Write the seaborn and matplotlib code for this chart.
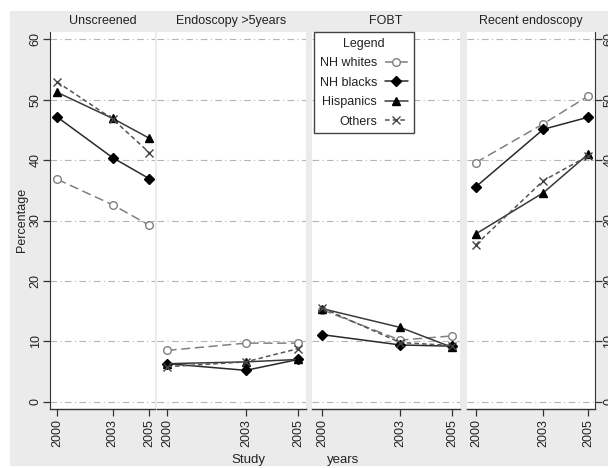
import pandas as pd
import matplotlib
matplotlib.use("Agg")
import matplotlib.pyplot as plt
from matplotlib.patches import Rectangle
import seaborn as sns

# data
years = [2000, 2003, 2005]
panels = ["Unscreened", "Endoscopy >5years", "FOBT", "Recent endoscopy"]
groups = ["NH whites", "NH blacks", "Hispanics", "Others"]

nh_whites = [[36.8, 32.6, 29.2], [8.5, 9.7, 9.7], [15.2, 10.2, 10.9], [39.6, 46.0, 50.6]]
nh_blacks = [[47.1, 40.4, 36.9], [6.3, 5.2, 7.0], [11.1, 9.4, 9.2], [35.6, 45.1, 47.1]]
hispanics = [[51.2, 46.9, 43.6], [6.3, 6.6, 7.0], [15.4, 12.3, 9.0], [27.8, 34.6, 41.0]]
others = [[52.9, 46.8, 41.2], [5.8, 6.6, 8.8], [15.5, 9.8, 9.3], [26.0, 36.6, 40.7]]

yticks = [0, 10, 20, 30, 40, 50, 60]

rows = []
for g, vals in zip(groups, [nh_whites, nh_blacks, hispanics, others]):
    for p, series in zip(panels, vals):
        for yr, v in zip(years, series):
            rows.append({"panel": p, "group": g, "year": yr, "pct": v})
df = pd.DataFrame(rows)

sns.set_style("white")
plt.rcParams["font.family"] = ["Liberation Sans", "DejaVu Sans"]

# line styles per group
styles = {
    "NH whites": dict(color="#808080", marker="o", linestyle=(0, (6, 3)), markersize=5.5,
                      markerfacecolor="white", markeredgecolor="#808080"),
    "NH blacks": dict(color="#2a2a2a", marker="D", linestyle="-", markersize=4.8,
                      markerfacecolor="black", markeredgecolor="black"),
    "Hispanics": dict(color="#3a3a3a", marker="^", linestyle="-", markersize=6,
                      markerfacecolor="black", markeredgecolor="black"),
    "Others": dict(color="#555555", marker="x", linestyle=(0, (3, 2)), markersize=5.5,
                   markeredgecolor="#444444"),
}

W, H = 608, 468
fig = plt.figure(figsize=(W / 100, H / 100), dpi=100)
fig.patch.set_facecolor("white")
fig.add_artist(Rectangle((10 / W, 2 / H), 1, (H - 13) / H, transform=fig.transFigure,
                         facecolor="#ebebeb", edgecolor="none", zorder=-5))

# panel extents in pixels
edges = [(50, 155), (157, 306), (312, 460), (467, 595)]
bottom, top = 409, 32
axes = []
for i, (p, (l, r)) in enumerate(zip(panels, edges)):
    ax = fig.add_axes([l / W, (H - bottom) / H, (r - l) / W, (bottom - top) / H])
    sub = df[df["panel"] == p]
    for g in groups:
        sns.lineplot(data=sub[sub["group"] == g], x="year", y="pct", label=g,
                     linewidth=1.1, markeredgewidth=1.0, ax=ax, **styles[g])
    ax.set_xlim(1999.6, 2005.3)
    ax.set_ylim(-1.2, 61.2)
    ax.set_xticks(years)
    ax.set_yticks(yticks)
    ax.set_xlabel("")
    ax.set_ylabel("")
    ax.set_facecolor("white")
    ax.yaxis.grid(True, linestyle=(0, (6, 3, 1, 3)), color="#b5b5b5", linewidth=0.8)
    ax.set_axisbelow(True)
    ax.set_title(p, fontsize=9, color="#222222", pad=6)
    for s in ["top", "right", "left"]:
        ax.spines[s].set_visible(False)
    ax.spines["bottom"].set_color("#333333")
    ax.spines["bottom"].set_linewidth(1.0)
    ax.tick_params(axis="x", direction="out", length=5, width=0.9, color="#333333",
                   labelsize=9, labelcolor="#222222", rotation=90, pad=2, bottom=True)
    ax.tick_params(axis="y", left=False, labelleft=False)
    axes.append(ax)

ax1 = axes[0]
ax1.spines["left"].set_visible(True)
ax1.spines["left"].set_color("#333333")
ax1.tick_params(axis="y", left=True, labelleft=True, direction="out", length=5, width=0.9,
                color="#333333", labelsize=9, labelcolor="#222222", labelrotation=90, pad=1)
for t in ax1.get_yticklabels():
    t.set_va("center")

ax4 = axes[3]
ax4.spines["right"].set_visible(True)
ax4.spines["right"].set_color("#333333")
ax4.yaxis.set_ticks_position("right")
ax4.tick_params(axis="y", right=True, labelright=True, direction="out", length=5, width=0.9,
                color="#333333", labelsize=9, labelcolor="#222222", labelrotation=90, pad=1)
for t in ax4.get_yticklabels():
    t.set_va("center")

# legend built from the first panel
handles, labels = ax1.get_legend_handles_labels()
for a in axes:
    if a.get_legend() is not None:
        a.get_legend().remove()
leg = fig.legend(handles, labels, title="Legend", loc="upper left",
                 bbox_to_anchor=(314 / W, (H - 32) / H), markerfirst=False,
                 frameon=True, fancybox=False, fontsize=9, title_fontsize=9,
                 handlelength=1.9, labelspacing=0.6, borderpad=0.45,
                 handletextpad=0.6, borderaxespad=0)
leg.get_frame().set_edgecolor("#444444")
leg.get_frame().set_linewidth(1.0)
leg.get_frame().set_facecolor("white")
leg.get_frame().set_alpha(1)
for t in leg.get_texts():
    t.set_color("#222222")
leg.get_title().set_color("#222222")

fig.text(22 / W, (H - 220) / H, "Percentage", rotation=90, ha="center", va="center",
         fontsize=9, color="#222222")
fig.text(248 / W, (H - 460) / H, "Study", ha="center", va="center", fontsize=9.5, color="#222222")
fig.text(343 / W, (H - 460) / H, "years", ha="center", va="center", fontsize=9.5, color="#222222")

fig.savefig("out.png", dpi=100, facecolor=fig.get_facecolor())
